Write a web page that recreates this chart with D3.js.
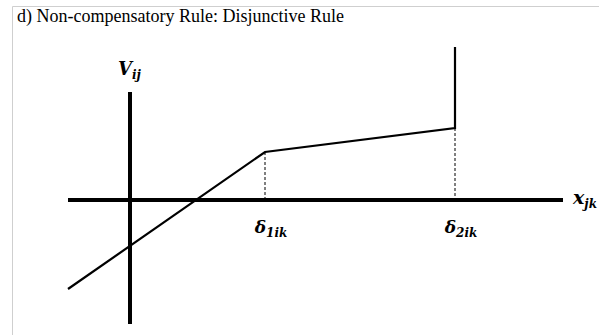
<!DOCTYPE html>
<html>
<head>
<meta charset="utf-8">
<script src="https://cdn.jsdelivr.net/npm/d3@7"></script>
<style>
  body { margin: 0; background: #fff; }
  svg { display: block; }
</style>
</head>
<body>
<div id="canvas"></div>
<script>
"use strict"

/* Canvas size */
let svgWidth = 599;
let svgHeight = 335;

/* Data (abstract units, origin where the axes cross) */
let xAxisExtent = [-6.2, 43.3];
let yAxisExtent = [-12.4, 10.8];
let utilityX = [-6.2, 13.5, 32.5, 32.5];
let utilityY = [-8.9, 4.8, 7.2, 15.3];
let thresholdNames = ["δ", "δ"];
let thresholdSubs = ["1ik", "2ik"];
let thresholdX = [13.5, 32.5];
let thresholdY = [4.8, 7.2];

let titleText = "d) Non-compensatory Rule: Disjunctive Rule";

let svg = d3.select("#canvas")
    .append("svg")
    .attr("width", svgWidth)
    .attr("height", svgHeight);

/* Scales: 10 px per unit */
let xScale = d3.scaleLinear()
    .domain([-6.2, 43.3])
    .range([68, 563]);

let yScale = d3.scaleLinear()
    .domain([-12.4, 15.3])
    .range([324, 47]);

/* Light frame round the figure (top and left only) */
svg.append("line")
    .attr("x1", 12.5).attr("y1", 6.5)
    .attr("x2", svgWidth).attr("y2", 6.5)
    .attr("stroke", "#cfcfcf");
svg.append("line")
    .attr("x1", 12.5).attr("y1", 6.5)
    .attr("x2", 12.5).attr("y2", svgHeight)
    .attr("stroke", "#cfcfcf");

/* Title */
svg.append("text")
    .attr("x", 17)
    .attr("y", 22)
    .style("font-family", "'Liberation Serif', 'Times New Roman', serif")
    .style("font-size", "18px")
    .attr("fill", "#000")
    .text(titleText);

/* Axes */
svg.append("line")
    .attr("x1", xScale(xAxisExtent[0]))
    .attr("y1", yScale(0))
    .attr("x2", xScale(xAxisExtent[1]))
    .attr("y2", yScale(0))
    .attr("stroke", "black")
    .attr("stroke-width", 4);

svg.append("line")
    .attr("x1", xScale(0))
    .attr("y1", yScale(yAxisExtent[0]))
    .attr("x2", xScale(0))
    .attr("y2", yScale(yAxisExtent[1]))
    .attr("stroke", "black")
    .attr("stroke-width", 4);

/* Dashed drop lines from the thresholds */
for (let i = 0; i < thresholdX.length; i++) {
    svg.append("line")
        .attr("x1", xScale(thresholdX[i]))
        .attr("y1", yScale(thresholdY[i]))
        .attr("x2", xScale(thresholdX[i]))
        .attr("y2", yScale(0))
        .attr("stroke", "black")
        .attr("stroke-width", 1)
        .attr("stroke-dasharray", "3,2");
}

/* Utility curve */
let points = utilityX.map(function (x, i) { return [x, utilityY[i]]; });
svg.append("path")
    .attr("d", d3.line()
        .x(function (d) { return xScale(d[0]); })
        .y(function (d) { return yScale(d[1]); })(points))
    .attr("fill", "none")
    .attr("stroke", "black")
    .attr("stroke-width", 2.2)
    .attr("stroke-linejoin", "miter");

/* Math labels */
let mathFont = "'DejaVu Serif', serif";

function mathLabel(x, y, main, sub, mainSize, subSize, anchor) {
    let t = svg.append("text")
        .attr("x", x)
        .attr("y", y)
        .style("font-family", mathFont)
        .style("font-style", "italic")
        .style("font-weight", "bold")
        .style("text-anchor", anchor)
        .attr("fill", "#000");
    t.append("tspan")
        .style("font-size", mainSize + "px")
        .text(main);
    t.append("tspan")
        .attr("dy", 4)
        .style("font-size", subSize + "px")
        .text(sub);
    return t;
}

mathLabel(xScale(0) - 12, 75, "V", "ij", 18, 12, "start");
mathLabel(xScale(xAxisExtent[1]) + 10, 204, "x", "jk", 19, 12, "start");

for (let i = 0; i < thresholdX.length; i++) {
    mathLabel(xScale(thresholdX[i]) + 6, 233, thresholdNames[i], thresholdSubs[i], 17, 12, "middle");
}
</script>
</body>
</html>
